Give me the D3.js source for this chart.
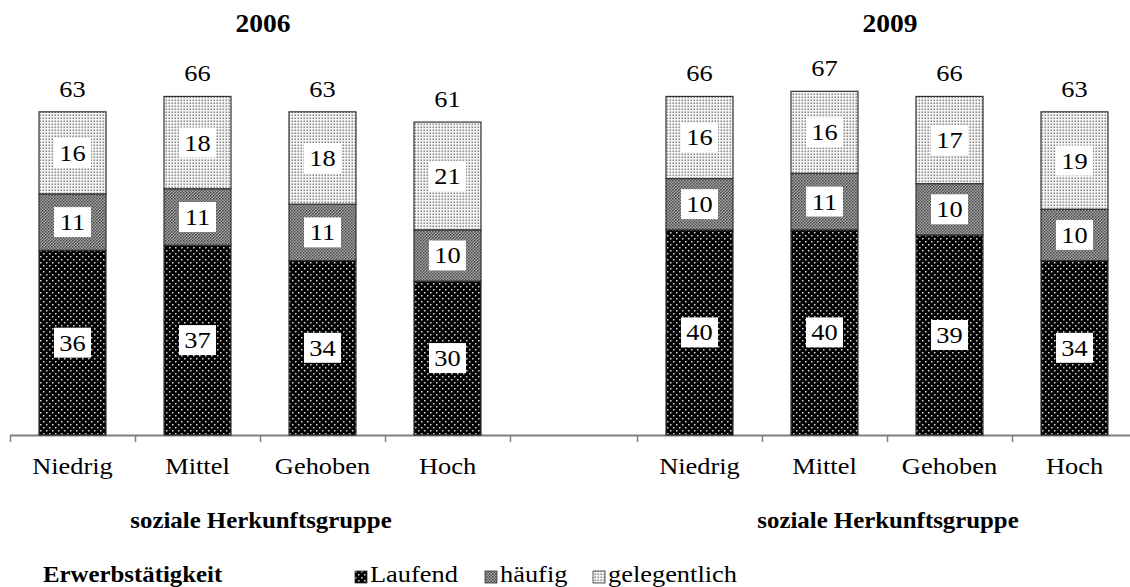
<!DOCTYPE html>
<html>
<head>
<meta charset="utf-8">
<script src="https://cdn.jsdelivr.net/npm/d3@7/dist/d3.min.js"></script>
<style>
  html, body { margin: 0; padding: 0; background: #fff; }
  svg { display: block; }
</style>
</head>
<body>
<svg id="chart" width="1130" height="587"></svg>
<script>
// Employment intensity by social origin group, two survey years
const groups = ["Niedrig", "Mittel", "Gehoben", "Hoch"];
const years = ["2006", "2009"];
const seriesNames = ["Laufend", "häufig", "gelegentlich"];

const laufend2006 = [36, 37, 34, 30];
const haeufig2006 = [11, 11, 11, 10];
const gelegentlich2006 = [16, 18, 18, 21];
const total2006 = [63, 66, 63, 61];

const laufend2009 = [40, 40, 39, 34];
const haeufig2009 = [10, 11, 10, 10];
const gelegentlich2009 = [16, 16, 17, 19];
const total2009 = [66, 67, 66, 63];

const axisTitle = "soziale Herkunftsgruppe";
const legendTitle = "Erwerbstätigkeit";

const panels = [
  { year: years[0], series: [laufend2006, haeufig2006, gelegentlich2006], totals: total2006, x0: 10, x1: 510 },
  { year: years[1], series: [laufend2009, haeufig2009, gelegentlich2009], totals: total2009, x0: 637, x1: 1137 }
];

const svg = d3.select("#chart");
const baseY = 435;
const FONT = '"Liberation Serif"';

// Text helper: slightly widened serif glyphs
function label(parent, x, yy, str, size, opts = {}) {
  const sx = opts.sx || 1.1;
  const t = parent.append("text")
    .attr("transform", `translate(${x},${yy}) scale(${sx},1)`)
    .attr("text-anchor", opts.anchor || "middle")
    .style("font-family", FONT)
    .style("font-size", size + "px")
    .style("fill", "#000")
    .text(str);
  if (opts.bold) t.style("font-weight", "bold");
  return t;
}

// Fill patterns for the three segments
const defs = svg.append("defs");
const pLauf = defs.append("pattern").attr("id", "pat-laufend")
  .attr("patternUnits", "userSpaceOnUse").attr("width", 6).attr("height", 6);
pLauf.append("rect").attr("width", 6).attr("height", 6).attr("fill", "#000");
pLauf.append("rect").attr("x", 1).attr("y", 1).attr("width", 1.5).attr("height", 1.5).attr("fill", "#d8d8d8");
pLauf.append("rect").attr("x", 4).attr("y", 4).attr("width", 1.5).attr("height", 1.5).attr("fill", "#d8d8d8");

const pHaeu = defs.append("pattern").attr("id", "pat-haeufig")
  .attr("patternUnits", "userSpaceOnUse").attr("width", 3).attr("height", 3);
pHaeu.append("rect").attr("width", 3).attr("height", 3).attr("fill", "#a8a8a8");
pHaeu.append("rect").attr("x", 0).attr("y", 0).attr("width", 1.5).attr("height", 1.5).attr("fill", "#444");
pHaeu.append("rect").attr("x", 1.5).attr("y", 1.5).attr("width", 1.5).attr("height", 1.5).attr("fill", "#555");

const pGel = defs.append("pattern").attr("id", "pat-gelegentlich")
  .attr("patternUnits", "userSpaceOnUse").attr("width", 3).attr("height", 3);
pGel.append("rect").attr("width", 3).attr("height", 3).attr("fill", "#f4f4f4");
pGel.append("rect").attr("x", 0.5).attr("y", 0.5).attr("width", 1.5).attr("height", 1.5).attr("fill", "#888");

const fills = ["url(#pat-laufend)", "url(#pat-haeufig)", "url(#pat-gelegentlich)"];

const y = d3.scaleLinear().domain([0, 84.8]).range([baseY, 0]);

// Shared category axis line
svg.append("line")
  .attr("x1", 10).attr("x2", 1130)
  .attr("y1", baseY + 0.5).attr("y2", baseY + 0.5)
  .attr("stroke", "#7f7f7f").attr("stroke-width", 2);

panels.forEach(panel => {
  const x = d3.scaleBand().domain(groups).range([panel.x0, panel.x1])
    .paddingInner(0.464).paddingOuter(0.232);
  const g = svg.append("g");

  // tick marks on band boundaries
  const ticks = groups.map(d => x(d) - x.step() * x.paddingOuter()).concat([panel.x1]);
  g.selectAll("line.tick").data(ticks).join("line")
    .attr("x1", d => d + 0.5).attr("x2", d => d + 0.5)
    .attr("y1", baseY).attr("y2", baseY + 7)
    .attr("stroke", "#7f7f7f").attr("stroke-width", 1.5);

  const rows = groups.map((grp, i) => {
    const o = { group: grp };
    seriesNames.forEach((s, k) => { o[s] = panel.series[k][i]; });
    return o;
  });
  const stacked = d3.stack().keys(seriesNames)(rows);

  stacked.forEach((layer, k) => {
    g.selectAll(null).data(layer).join("rect")
      .attr("x", d => x(d.data.group))
      .attr("width", x.bandwidth())
      .attr("y", d => y(d[1]))
      .attr("height", d => y(d[0]) - y(d[1]))
      .attr("fill", fills[k])
      .attr("stroke", "#333").attr("stroke-width", 1.2);
  });

  // value boxes inside segments
  stacked.forEach(layer => {
    layer.forEach(d => {
      const cx = x(d.data.group) + x.bandwidth() / 2;
      const cy = (y(d[0]) + y(d[1])) / 2;
      const v = d[1] - d[0];
      g.append("rect")
        .attr("x", cx - 18.5).attr("y", cy - 15)
        .attr("width", 37).attr("height", 30)
        .attr("fill", "#fff");
      label(g, cx, cy + 8, v, 24);
    });
  });

  // totals above bars
  groups.forEach((grp, i) => {
    label(g, x(grp) + x.bandwidth() / 2, y(panel.totals[i]) - 15, panel.totals[i], 24);
  });

  // category labels
  groups.forEach(grp => {
    label(g, x(grp) + x.bandwidth() / 2, 474, grp, 24);
  });

  const mid = (panel.x0 + panel.x1) / 2;
  label(g, mid + 3, 32, panel.year, 25, { bold: true });
  label(g, mid + 1, 528, axisTitle, 23, { bold: true, sx: 1.08 });
});

// Legend
label(svg, 43, 582, legendTitle, 23, { bold: true, sx: 1.08, anchor: "start" });

const legendX = [355, 485, 593];
seriesNames.forEach((s, k) => {
  svg.append("rect")
    .attr("x", legendX[k]).attr("y", 571)
    .attr("width", 12).attr("height", 12)
    .attr("fill", fills[k]).attr("stroke", "#333").attr("stroke-width", 0.8);
  label(svg, legendX[k] + 15, 582, s, 24, { anchor: "start" });
});
</script>
</body>
</html>
